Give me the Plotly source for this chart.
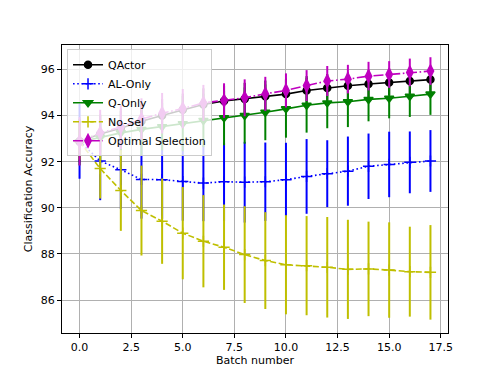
import plotly.graph_objects as go

batches = list(range(18))

qactor = [92.88, 93.2, 93.45, 93.75, 94.0, 94.25, 94.48, 94.63, 94.72, 94.84, 94.93, 95.09,
          95.2, 95.29, 95.37, 95.43, 95.5, 95.56]
qactor_err = [0.9, 0.8, 0.75, 0.75, 0.72, 0.7, 0.7, 0.68, 0.7, 0.68, 0.68, 0.62,
              0.6, 0.58, 0.58, 0.55, 0.55, 0.55]

al_only = [92.88, 92.03, 91.65, 91.23, 91.22, 91.14, 91.07, 91.13, 91.11, 91.13, 91.22, 91.36,
           91.48, 91.59, 91.8, 91.88, 91.97, 92.03]
al_only_err = [1.62, 1.7, 1.7, 1.7, 1.7, 1.7, 1.65, 1.7, 1.75, 1.7, 1.6, 1.62,
               1.45, 1.5, 1.42, 1.42, 1.34, 1.34]

q_only = [92.85, 93.05, 93.25, 93.4, 93.52, 93.65, 93.79, 93.9, 94.0, 94.14, 94.29, 94.45,
          94.55, 94.6, 94.7, 94.75, 94.84, 94.93]
q_only_err = [1.0, 1.0, 1.05, 1.13, 1.03, 1.2, 1.16, 1.19, 1.22, 1.21, 1.25, 1.19,
              1.1, 1.1, 0.95, 0.87, 0.9, 0.9]

no_sel = [92.88, 91.7, 90.75, 89.88, 89.42, 88.9, 88.55, 88.29, 87.97, 87.71, 87.53, 87.49,
          87.42, 87.33, 87.35, 87.3, 87.23, 87.2]
no_sel_err = [0.8, 1.3, 1.75, 1.95, 1.85, 2.0, 2.0, 1.85, 2.1, 2.1, 2.15, 2.15,
              2.18, 2.15, 2.05, 2.07, 1.95, 2.05]

optimal = [92.88, 93.25, 93.5, 93.85, 94.1, 94.3, 94.55, 94.65, 94.77, 94.94, 95.09, 95.3,
           95.5, 95.58, 95.71, 95.78, 95.87, 95.93]
optimal_err = [1.05, 1.0, 0.95, 0.9, 0.88, 0.85, 0.78, 0.75, 0.8, 0.74, 0.74, 0.67,
               0.65, 0.62, 0.62, 0.58, 0.6, 0.6]

series = [
    ("QActor", qactor, qactor_err, "#000000", "solid", "circle", 7),
    ("AL-Only", al_only, al_only_err, "#0000ff", "1.6px,2.6px", "cross-thin-open", 8),
    ("Q-Only", q_only, q_only_err, "#008000", "solid", "triangle-down", 8),
    ("No-Sel", no_sel, no_sel_err, "#bfbf00", "6px,2.6px", "cross-thin-open", 8),
    ("Optimal Selection", optimal, optimal_err, "#bf00bf", "10px,2.6px,1.6px,2.6px", "diamond-tall", 9),
]

fig = go.Figure()
for name, vals, errs, color, dash, symbol, size in series:
    fig.add_trace(go.Scatter(
        x=batches, y=vals, name=name, mode="lines+markers",
        line=dict(color=color, width=1.6, dash=dash),
        marker=dict(symbol=symbol, size=size, color=color,
                    line=dict(color=color, width=1.5)),
        error_y=dict(type="data", array=errs, visible=True, color=color,
                     thickness=2, width=0),
    ))

axis_common = dict(
    showgrid=True, gridcolor="#b0b0b0", gridwidth=1,
    showline=True, linecolor="black", linewidth=1, mirror=True,
    ticks="outside", ticklen=4, tickcolor="black",
    zeroline=False, automargin=False,
    tickfont=dict(size=11, color="black"),
    title_font=dict(size=11, color="black"),
)

fig.update_xaxes(range=[-0.85, 17.85], tickvals=[0, 2.5, 5, 7.5, 10, 12.5, 15, 17.5],
                 tickformat=".1f", title_text="Batch number", title_standoff=0, **axis_common)
fig.update_yaxes(range=[84.57, 97.06], tickvals=[86, 88, 90, 92, 94, 96],
                 title_text="Classification Accuracy", title_standoff=5, **axis_common)

# page has an 8px body margin, so the figure is a bit smaller and shifted
fig.update_layout(
    width=490, height=366,
    margin=dict(l=54, r=50, t=37, b=41),
    plot_bgcolor="white", paper_bgcolor="white",
    font=dict(family="DejaVu Sans", size=11, color="black"),
    legend=dict(x=0.013, y=0.985, xanchor="left", yanchor="top",
                bgcolor="rgba(255,255,255,0.8)", bordercolor="#cccccc", borderwidth=1,
                font=dict(size=11), tracegroupgap=0, itemwidth=30),
    showlegend=True,
)

fig.write_html("out.html")
